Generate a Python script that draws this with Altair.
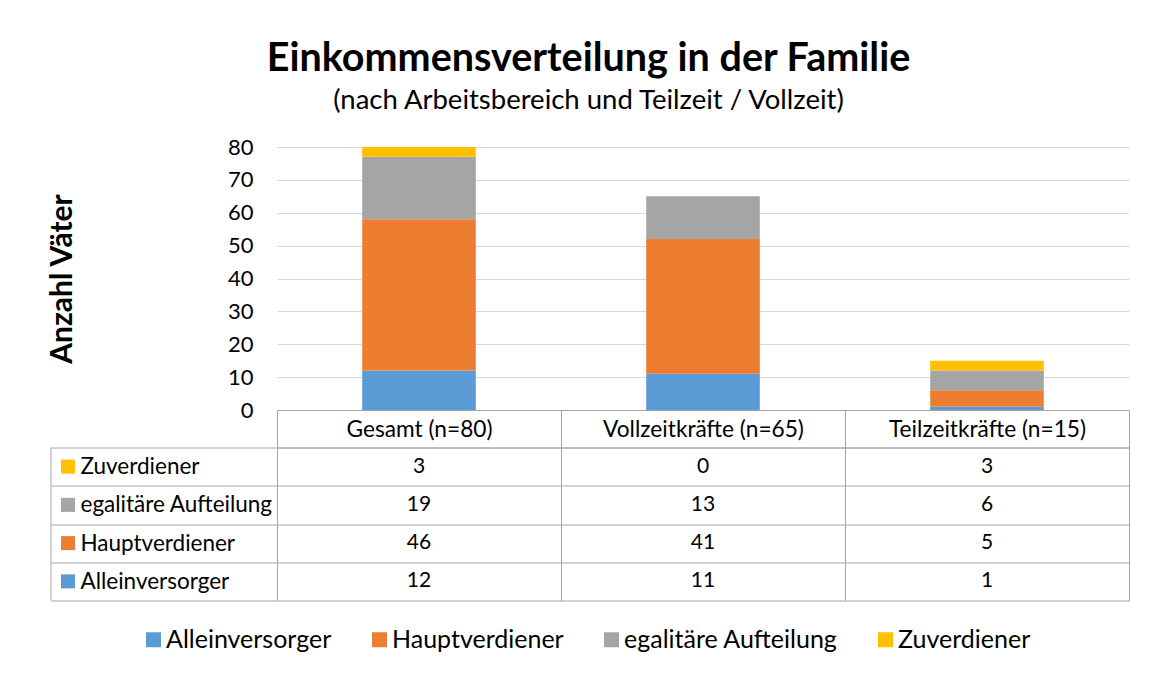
import altair as alt
import pandas as pd

categories = ["Gesamt (n=80)", "Vollzeitkräfte (n=65)", "Teilzeitkräfte (n=15)"]
series = ["Alleinversorger", "Hauptverdiener", "egalitäre Aufteilung", "Zuverdiener"]
alleinversorger = [12, 11, 1]
hauptverdiener = [46, 41, 5]
egalitaer = [19, 13, 6]
zuverdiener = [3, 0, 3]
colors = ["#5B9BD5", "#ED7D31", "#A5A5A5", "#FFC000"]
y_ticks = [0, 10, 20, 30, 40, 50, 60, 70, 80]

values_by_series = [alleinversorger, hauptverdiener, egalitaer, zuverdiener]
rows = []
for si, (s, vals) in enumerate(zip(series, values_by_series)):
    for c, v in zip(categories, vals):
        rows.append({"category": c, "series": s, "value": v, "order": si})
df = pd.DataFrame(rows)
table_rows = list(reversed(series))
sq_df = pd.DataFrame({"series": series})

FONT = "Lato"
LINE = "#A6A6A6"
GRID = "#D9D9D9"

color_scale = alt.Scale(domain=series, range=colors)

bars = alt.Chart(df).mark_bar().encode(
    x=alt.X("category:N", sort=categories,
            scale=alt.Scale(paddingInner=0.6, paddingOuter=0.3),
            axis=alt.Axis(labels=False, ticks=False, title=None, grid=False,
                          domainColor=LINE, domainWidth=1)),
    y=alt.Y("value:Q", stack="zero",
            scale=alt.Scale(domain=[0, 80], nice=False),
            axis=alt.Axis(values=y_ticks, title="Anzahl Väter", titleFontSize=30,
                          titleFontWeight="bold", titleColor="#000000", titlePadding=150,
                          labelFontSize=22, labelColor="#000000", labelPadding=24,
                          ticks=False, domain=False, gridColor=GRID, gridWidth=1)),
    color=alt.Color("series:N", sort=series, scale=color_scale,
                    legend=alt.Legend(title=None, orient="none", direction="horizontal",
                                      legendX=-136, legendY=480,
                                      symbolType="square", symbolSize=225,
                                      symbolStrokeWidth=0, labelFontSize=25,
                                      labelColor="#000000", columnPadding=35,
                                      labelOffset=0, labelLimit=0, symbolOpacity=1)),
    order=alt.Order("order:Q"),
).properties(width=852, height=263)

base = alt.Chart(df).encode(
    x=alt.X("category:N", sort=categories,
            scale=alt.Scale(paddingInner=0, paddingOuter=0),
            axis=alt.Axis(orient="top", title=None, tickBand="extent", tickSize=37.5,
                          tickColor=LINE, grid=True, gridColor=LINE, domainColor=LINE,
                          labelPadding=-19, labelBaseline="middle", labelFontSize=22.7,
                          labelAngle=0, labelColor="#000000", labelLimit=0)),
    y=alt.Y("series:N", sort=table_rows,
            scale=alt.Scale(paddingInner=0, paddingOuter=0),
            axis=alt.Axis(title=None, tickBand="extent", tickSize=226, tickColor=LINE,
                          grid=True, gridColor=LINE, domainColor=LINE,
                          labelAlign="left", labelPadding=-29, labelFontSize=22.5,
                          labelColor="#000000", labelLimit=0)),
)
cells = base.mark_text(fontSize=21, color="#000000").encode(text="value:Q")

squares = alt.Chart(sq_df).mark_square(size=196, opacity=1).encode(
    x=alt.value(-209),
    y=alt.Y("series:N", sort=table_rows),
    color=alt.Color("series:N", scale=color_scale, legend=None),
)
left_border = alt.Chart(pd.DataFrame({"k": [0]})).mark_rule(color=LINE).encode(
    x=alt.value(-226), y=alt.value(0), y2=alt.value(153)
)

table = alt.layer(cells, squares, left_border).properties(width=852, height=153)

chart = alt.vconcat(bars, table, spacing=37.5, bounds="flush").resolve_scale(
    x="independent", y="independent"
).properties(
    title=alt.TitleParams(
        "Einkommensverteilung in der Familie",
        subtitle="(nach Arbeitsbereich und Teilzeit / Vollzeit)",
        fontSize=39.5, fontWeight="bold", color="#000000", font=FONT,
        subtitleFontSize=27.5, subtitleColor="#000000", subtitleFont=FONT,
        subtitlePadding=7, anchor="middle", offset=21, dx=0,
    ),
    padding={"left": 39, "top": 31, "right": 10, "bottom": 10},
).configure(font=FONT).configure_view(stroke=None)

chart.save("out.html", embed_options={"renderer": "svg", "actions": False})
